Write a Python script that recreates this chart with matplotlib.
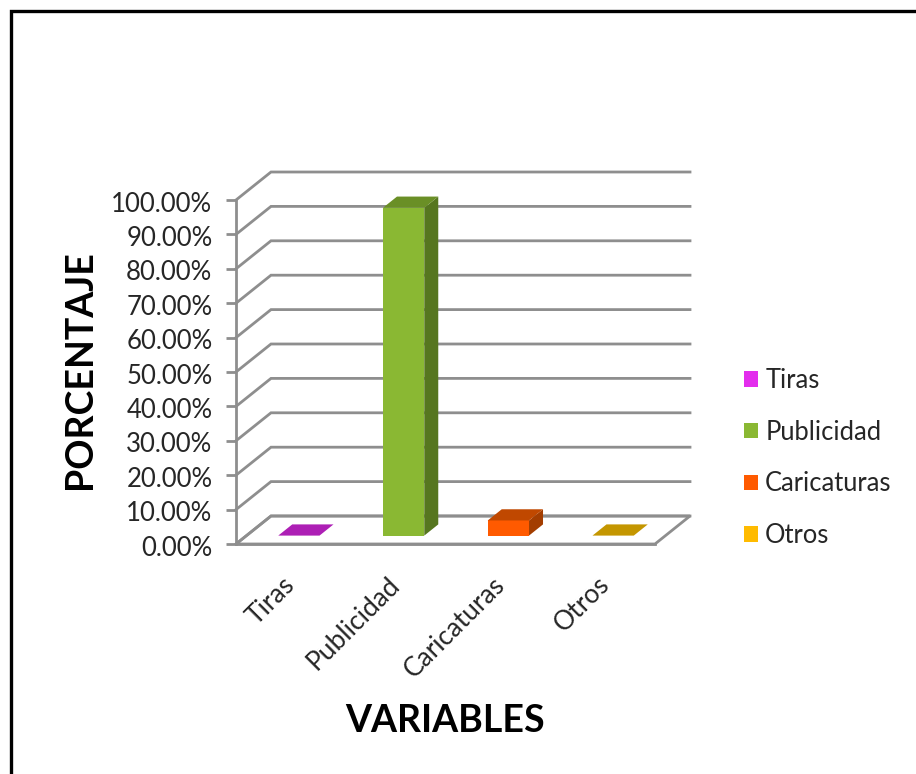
from matplotlib import pyplot as plt
from matplotlib.lines import Line2D
from matplotlib.patches import Patch, Polygon
from matplotlib.transforms import ScaledTranslation

plt.rcParams['font.family'] = ['Lato', 'DejaVu Sans']

# datos
categorias = ['Tiras', 'Publicidad', 'Caricaturas', 'Otros']
valores = [0.0, 95.3, 4.4, 0.0]
y_ticks = [0, 10, 20, 30, 40, 50, 60, 70, 80, 90, 100]
y_labels = ['0.00%', '10.00%', '20.00%', '30.00%', '40.00%', '50.00%',
            '60.00%', '70.00%', '80.00%', '90.00%', '100.00%']

# colores: frente, arriba, lado
frente = ['#e32ded', '#8ab833', '#ff5a00', '#ffbb00']
arriba = ['#ad1fb5', '#6a8f26', '#c04800', '#c49600']
lado = ['#8f1a96', '#56761f', '#a33d00', '#a37c00']
gris = '#8e8e8e'

W, H = 916, 774
fig = plt.figure(figsize=(W / 100, H / 100), dpi=100)

# el eje es el plano frontal del grafico
x0, x1, y_top, y_bot = 236, 655, 200, 544
ax = fig.add_axes([x0 / W, 1 - y_bot / H, (x1 - x0) / W, (y_bot - y_top) / H])
ax.set_xlim(0, 4)
ax.set_ylim(0, 100)

# profundidad oblicua en unidades de datos
DX = 35 / ((x1 - x0) / 4)
DY = 28 / ((y_bot - y_top) / 100)
ancho = 0.394
gap = 0.3
prof = 0.4

# suelo y pared
ax.add_patch(Polygon([(0, 0), (4, 0), (4 + DX, DY), (DX, DY)], closed=True,
                     facecolor='white', edgecolor=gris, lw=2, clip_on=False, zorder=1))
for t in y_ticks:
    ax.plot([0, DX, 4 + DX], [t, t + DY, t + DY], color=gris, lw=2,
            clip_on=False, zorder=1, solid_joinstyle='miter')

# barras
for i, v in enumerate(valores):
    xc = i + 0.5 + gap * DX
    base = gap * DY
    left = xc - ancho / 2
    right = xc + ancho / 2
    top = base + v
    if v > 0:
        ax.bar(xc, v, width=ancho, bottom=base, color=frente[i], clip_on=False, zorder=3)
        ax.add_patch(Polygon([(right, base), (right + prof * DX, base + prof * DY),
                              (right + prof * DX, top + prof * DY), (right, top)],
                             closed=True, facecolor=lado[i], edgecolor='none',
                             clip_on=False, zorder=3))
    ax.add_patch(Polygon([(left, top), (right, top), (right + prof * DX, top + prof * DY),
                          (left + prof * DX, top + prof * DY)],
                         closed=True, facecolor=arriba[i], edgecolor='none',
                         clip_on=False, zorder=3))

# ejes
for s in ['top', 'right']:
    ax.spines[s].set_visible(False)
for s in ['left', 'bottom']:
    ax.spines[s].set_color(gris)
    ax.spines[s].set_linewidth(2)
ax.patch.set_alpha(0)

ax.set_yticks(y_ticks)
ax.set_yticklabels(y_labels, fontsize=18.5, color='#262626')
ax.tick_params(axis='y', length=7, width=2, color=gris, pad=10)

ax.set_xticks([i + 0.5 for i in range(len(categorias))])
ax.set_xticklabels(categorias, rotation=45, ha='right', rotation_mode='anchor',
                   fontsize=19, color='#262626')
ax.tick_params(axis='x', length=0, pad=20)

# pequeños ajustes de las etiquetas, en pixeles
ajuste_x = ScaledTranslation(-6 / 100, 0, fig.dpi_scale_trans)
for lab in ax.get_xticklabels():
    lab.set_transform(lab.get_transform() + ajuste_x)
ajuste_y = ScaledTranslation(0, -1.5 / 100, fig.dpi_scale_trans)
for lab in ax.get_yticklabels():
    lab.set_transform(lab.get_transform() + ajuste_y)

# titulos de ejes
fig.text(79.5 / W, 1 - 369.5 / H, 'PORCENTAJE', rotation=90, ha='center', va='center',
         fontsize=27, fontweight='bold', color='black')
fig.text(445 / W, 1 - 721 / H, 'VARIABLES', ha='center', va='center',
         fontsize=27, fontweight='bold', color='black')

# leyenda
handles = [Patch(facecolor=c, edgecolor='none', label=n) for c, n in zip(frente, categorias)]
fig.legend(handles=handles, loc='center left', bbox_to_anchor=(721 / W, 1 - 458 / H),
           frameon=False, fontsize=18.4, labelcolor='#262626', handlelength=0.55,
           handleheight=0.55, handletextpad=0.28, labelspacing=1.04)

# borde del recuadro
fig.add_artist(Line2D([11 / W, 11 / W, 1], [0, 1 - 11 / H, 1 - 11 / H], color='black',
                      lw=2.4, solid_joinstyle='miter'))

fig.savefig('out.png', dpi=100)
